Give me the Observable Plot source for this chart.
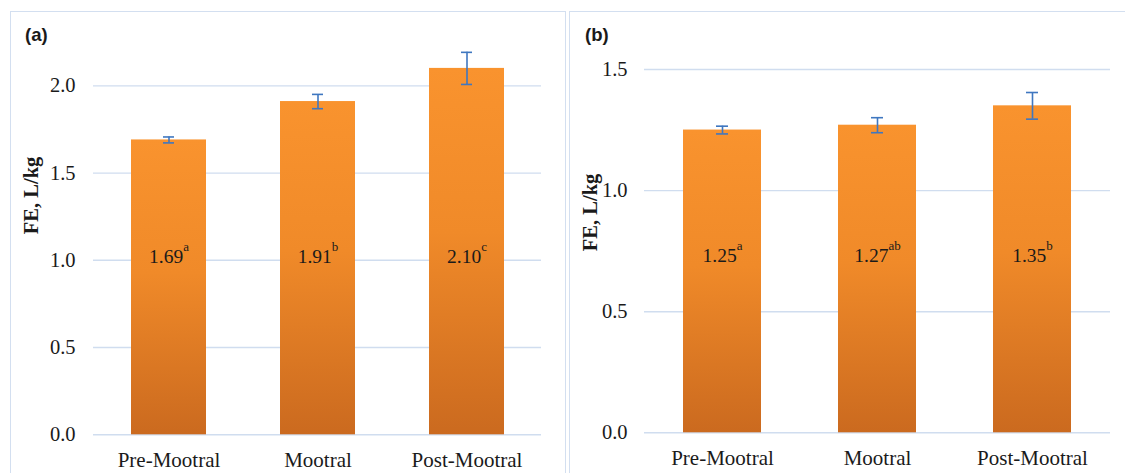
<!DOCTYPE html>
<html>
<head>
<meta charset="utf-8">
<script src="https://cdn.jsdelivr.net/npm/d3@7"></script>
<script src="https://cdn.jsdelivr.net/npm/@observablehq/plot@0.6"></script>
<style>
  html, body { margin: 0; padding: 0; background: #fff; }
  #wrap { position: relative; width: 1125px; height: 473px; overflow: hidden; background: #fff; }
  .panel { position: absolute; border: 1.5px solid #d3dff0; box-sizing: border-box; }
  .tag { position: absolute; font-family: "Liberation Sans", Arial, sans-serif; font-size: 18.5px; font-weight: bold; color: #1a1a1a; line-height: 1; }
  .chart { position: absolute; top: 0; }
</style>
</head>
<body>
<div id="wrap">
  <div class="panel" style="left:10px;top:11px;width:556px;height:480px;"></div>
  <div class="panel" style="left:569px;top:11px;width:600px;height:480px;"></div>
  <div class="chart" id="chartA" style="left:0px;"></div>
  <div class="chart" id="chartB" style="left:565px;"></div>
  <div class="tag" id="tagA" style="left:25px;top:26px;"></div>
  <div class="tag" id="tagB" style="left:585px;top:26px;"></div>
</div>
<script>
// ---- data ----
const categories = ["Pre-Mootral", "Mootral", "Post-Mootral"];
const feA = [1.69, 1.91, 2.10];
const seA = [0.017, 0.041, 0.092];
const supA = ["a", "b", "c"];
const feB = [1.25, 1.27, 1.35];
const seB = [0.016, 0.031, 0.055];
const supB = ["a", "ab", "b"];
const yTicksA = [0, 0.5, 1.0, 1.5, 2.0];
const yTicksB = [0, 0.5, 1.0, 1.5];
const yLabel = "FE, L/kg";
const panelTags = ["(a)", "(b)"];

const rowsOf = (fe, se, sup) => categories.map((c, i) => ({
  cat: c, fe: fe[i], lo: fe[i] - se[i], hi: fe[i] + se[i], sup: sup[i]
}));

const BLUE = "#3f77c0";
const SERIF = "'Liberation Serif', 'Times New Roman', serif";

function panel(cfg) {
  const rows = rowsOf(cfg.fe, cfg.se, cfg.sup);
  const chart = Plot.plot({
    width: cfg.width,
    height: 473,
    marginLeft: cfg.marginLeft,
    marginRight: cfg.marginRight,
    marginTop: cfg.marginTop,
    marginBottom: cfg.marginBottom,
    style: { fontFamily: SERIF, fontSize: "20px", color: "#1a1a1a", background: "transparent", overflow: "visible" },
    x: { domain: categories, paddingInner: 0.5, paddingOuter: 0.25, label: null },
    y: { domain: [0, cfg.ymax], label: null },
    marks: [
      Plot.ruleY(cfg.ticks, { stroke: "#d0ddef", strokeWidth: 1.4 }),
      Plot.barY(rows, { x: "cat", y: "fe", fill: `url(#${cfg.gid})` }),
      Plot.ruleX(rows, { x: "cat", y1: "lo", y2: "hi", stroke: BLUE, strokeWidth: 1.6 }),
      Plot.tickY(rows, { x: "cat", y: "lo", inset: cfg.capInset, stroke: BLUE, strokeWidth: 1.6 }),
      Plot.tickY(rows, { x: "cat", y: "hi", inset: cfg.capInset, stroke: BLUE, strokeWidth: 1.6 }),
      Plot.text(rows, { x: "cat", frameAnchor: "middle", dy: cfg.labelDy, text: d => d.fe.toFixed(2) + "|" + d.sup, fontSize: 19.5, fill: "#1a1a1a" }),
      Plot.text([yLabel], { text: d => d, frameAnchor: "left", dx: cfg.ylabelDx, dy: cfg.ylabelDy, rotate: -90, fontWeight: "bold", fontSize: 20.5, fill: "#1a1a1a" }),
      Plot.axisY({ ticks: cfg.ticks, tickFormat: d3.format(".1f"), tickSize: 0, tickPadding: cfg.tickPadY, label: null, fontSize: 20.5 }),
      Plot.axisX({ tickSize: 0, tickPadding: 17.5, label: null, fontSize: 21 })
    ]
  });
  // gradient definition for the bars
  const ns = "http://www.w3.org/2000/svg";
  const defs = document.createElementNS(ns, "defs");
  const lg = document.createElementNS(ns, "linearGradient");
  lg.setAttribute("id", cfg.gid);
  lg.setAttribute("x1", "0"); lg.setAttribute("y1", "0");
  lg.setAttribute("x2", "0"); lg.setAttribute("y2", "1");
  [["0%", "#f9932e"], ["45%", "#f08a29"], ["100%", "#cb6a1f"]].forEach(([o, c]) => {
    const s = document.createElementNS(ns, "stop");
    s.setAttribute("offset", o); s.setAttribute("stop-color", c);
    lg.appendChild(s);
  });
  defs.appendChild(lg);
  chart.insertBefore(defs, chart.firstChild);
  // superscripts
  chart.querySelectorAll("text").forEach(t => {
    const s = t.textContent;
    if (s.includes("|")) {
      const [main, sup] = s.split("|");
      t.textContent = main;
      const ts = document.createElementNS(ns, "tspan");
      ts.setAttribute("font-size", "13");
      ts.setAttribute("dy", "-12");
      ts.textContent = sup;
      t.appendChild(ts);
    }
  });
  return chart;
}

document.getElementById("chartA").appendChild(panel({
  fe: feA, se: seA, sup: supA, ticks: yTicksA, ymax: 2.3, gid: "gradA",
  width: 560, marginLeft: 93, marginRight: 19, marginTop: 33, marginBottom: 38.7,
  capInset: 32, labelDy: 23, ylabelDx: -62.5, ylabelDy: 0, tickPadY: 18
}));
document.getElementById("chartB").appendChild(panel({
  fe: feB, se: seB, sup: supB, ticks: yTicksB, ymax: 1.5, gid: "gradB",
  width: 560, marginLeft: 79, marginRight: 15, marginTop: 69, marginBottom: 40.7,
  capInset: 33, labelDy: 5, ylabelDx: -54.5, ylabelDy: 0, tickPadY: 17
}));
document.getElementById("tagA").textContent = panelTags[0];
document.getElementById("tagB").textContent = panelTags[1];
</script>
</body>
</html>
